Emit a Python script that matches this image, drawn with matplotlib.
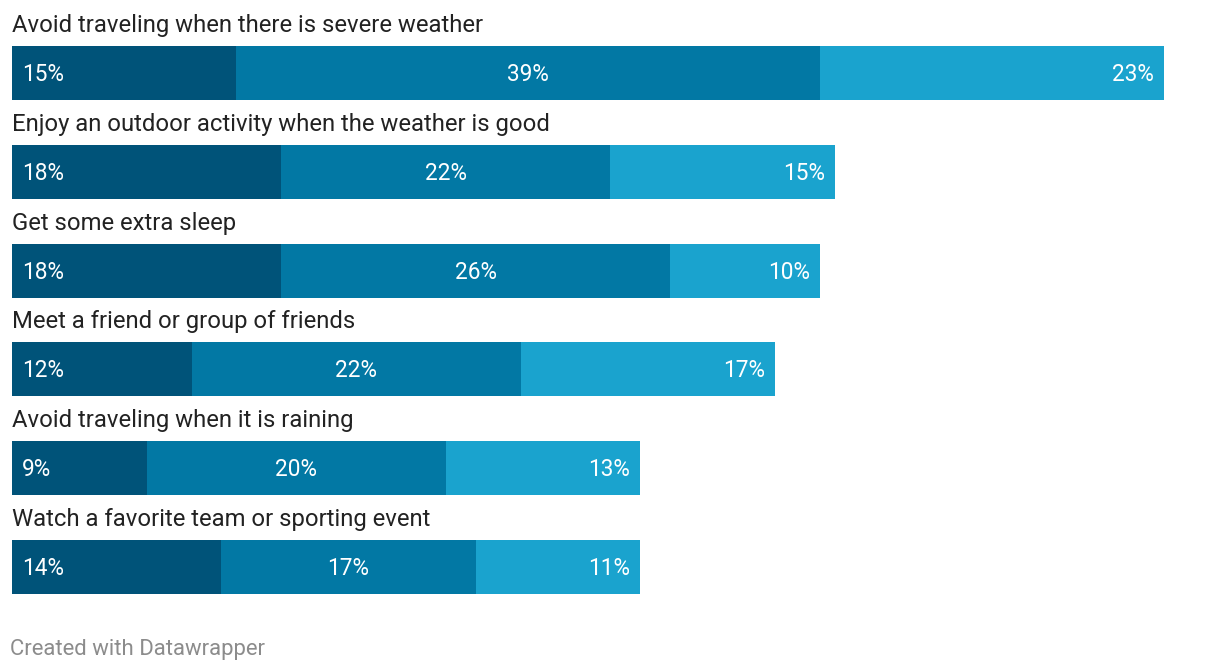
import matplotlib.pyplot as plt

categories = [
    "Avoid traveling when there is severe weather",
    "Enjoy an outdoor activity when the weather is good",
    "Get some extra sleep",
    "Meet a friend or group of friends",
    "Avoid traveling when it is raining",
    "Watch a favorite team or sporting event",
]
first = [15, 18, 18, 12, 9, 14]
second = [39, 22, 26, 22, 20, 17]
third = [23, 15, 10, 17, 13, 11]
colors = ["#005379", "#0278a4", "#1aa3ce"]

plt.rcParams["font.family"] = ["Roboto", "DejaVu Sans"]

W, H = 1220, 672
fig = plt.figure(figsize=(W / 100, H / 100), dpi=100)
left_px = 12
px_per_pct = 14.96
row_px = 98.8
first_center = 73
ax = fig.add_axes([left_px / W, 0, 1 - left_px / W, 1])
ax.set_xlim(0, (W - left_px) / px_per_pct)
ax.set_ylim((H - first_center) / row_px, -first_center / row_px)
ax.axis("off")

bar_h = 54 / row_px
pad = 10 / px_per_pct
for i, cat in enumerate(categories):
    a, b, c = first[i], second[i], third[i]
    ax.barh(i, a, left=0, height=bar_h, color=colors[0], linewidth=0)
    ax.barh(i, b, left=a, height=bar_h, color=colors[1], linewidth=0)
    ax.barh(i, c, left=a + b, height=bar_h, color=colors[2], linewidth=0)
    ty = i + 1.5 / row_px
    kw = dict(va="center", color="white", fontsize=16.3)
    ax.text(pad, ty, f"{a}%", ha="left", **kw)
    ax.text(a + b / 2, ty, f"{b}%", ha="center", **kw)
    ax.text(a + b + c - pad, ty, f"{c}%", ha="right", **kw)
    ax.text(0, i - 47.5 / row_px, cat, ha="left", va="center",
            color="#222222", fontsize=17.2)

fig.text(10 / W, 1 - 649 / H, "Created with Datawrapper", ha="left",
         va="center", color="#8c8c8c", fontsize=15.9)

fig.savefig("out.png", dpi=100)
